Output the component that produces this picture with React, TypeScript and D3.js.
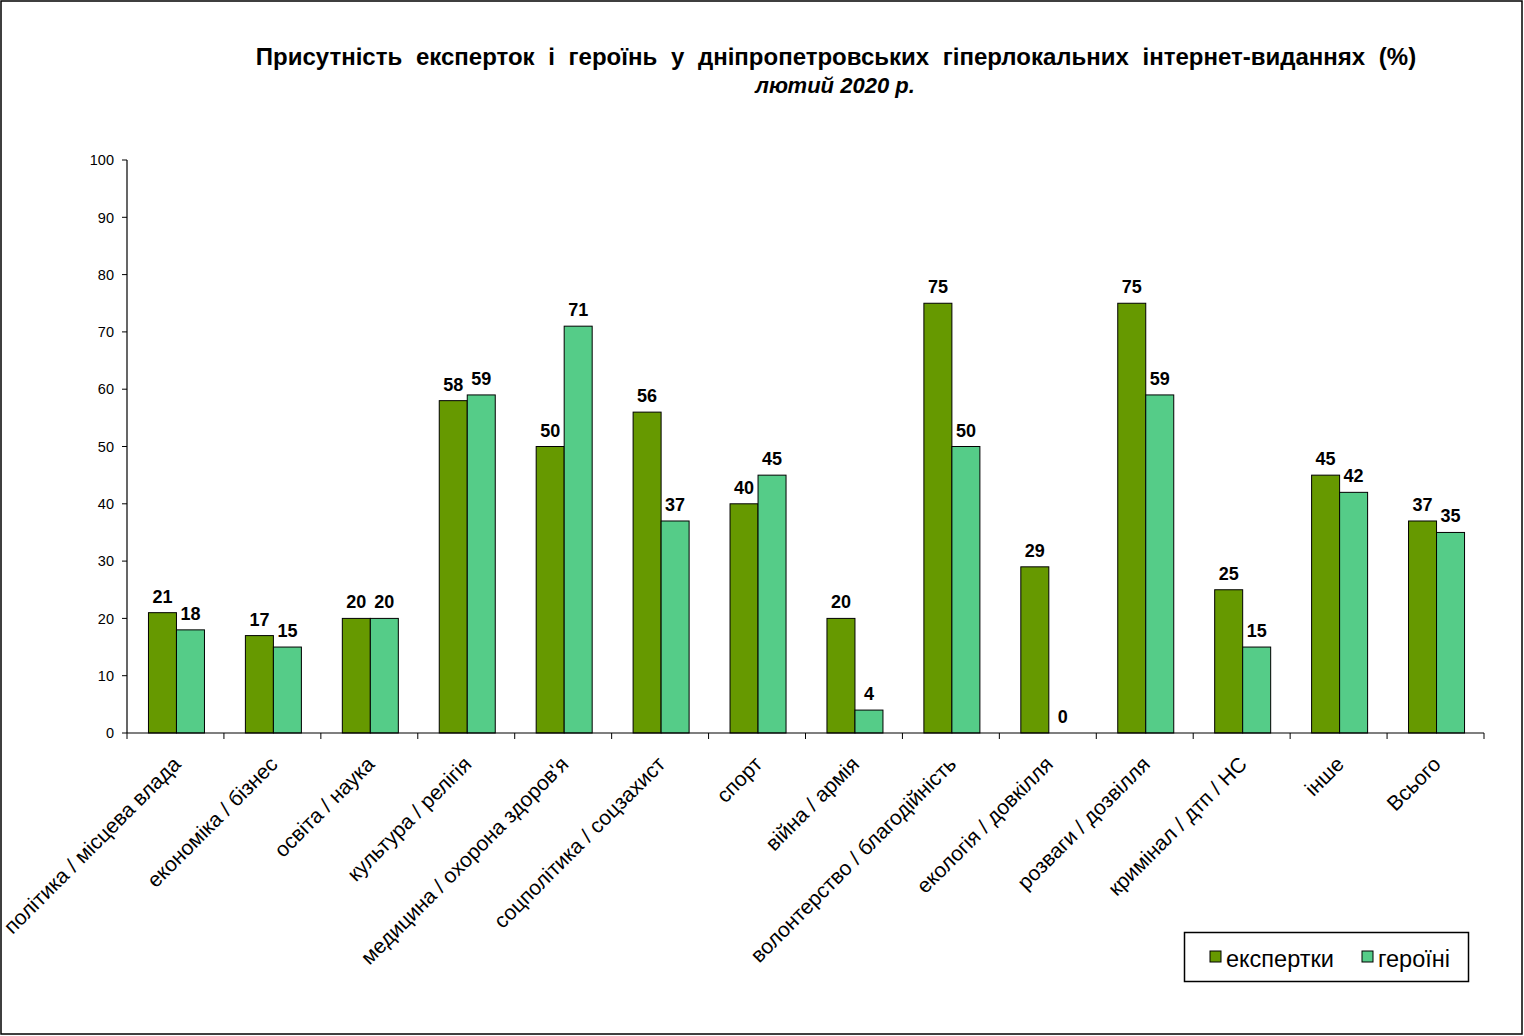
import React from "react";
import * as d3 from "d3";

const categories = [
  "політика / місцева влада",
  "економіка / бізнес",
  "освіта / наука",
  "культура / релігія",
  "медицина / охорона здоров'я",
  "соцполітика / соцзахист",
  "спорт",
  "війна / армія",
  "волонтерство / благодійність",
  "екологія / довкілля",
  "розваги / дозвілля",
  "кримінал / дтп / НС",
  "інше",
  "Всього",
];
const experts = [21, 17, 20, 58, 50, 56, 40, 20, 75, 29, 75, 25, 45, 37];
const heroines = [18, 15, 20, 59, 71, 37, 45, 4, 50, 0, 59, 15, 42, 35];
const seriesNames = ["експертки", "героїні"];
const yTicks = [0, 10, 20, 30, 40, 50, 60, 70, 80, 90, 100];

const colors = ["#669900", "#55CC88"];

const W = 1524;
const H = 1036;
const plot = { left: 127, right: 1484, top: 160, bottom: 733 };

export default function App() {
  const x = d3
    .scaleBand<string>()
    .domain(categories)
    .range([plot.left, plot.right])
    .paddingInner(0)
    .paddingOuter(0);
  const y = d3.scaleLinear().domain([0, 100]).range([plot.bottom, plot.top]);
  const barW = 28;
  const series = [experts, heroines];
  const font = "Arial, 'Liberation Sans', sans-serif";

  return (
    <svg
      width={W}
      height={H}
      style={{ position: "absolute", left: 0, top: 0, background: "#fff" }}
      fontFamily={font}
    >
      <rect x={1} y={1} width={1521} height={1033} fill="#fff" stroke="#000" strokeWidth={1.5} />

      <text x={836} y={65} textAnchor="middle" fontSize={24} fontWeight="bold" wordSpacing={7}>
        Присутність експерток і героїнь у дніпропетровських гіперлокальних інтернет-виданнях (%)
      </text>
      <text x={835} y={93} textAnchor="middle" fontSize={22} fontWeight="bold" fontStyle="italic">
        лютий 2020 р.
      </text>

      {/* y axis */}
      <line x1={plot.left} x2={plot.left} y1={plot.top} y2={plot.bottom} stroke="#000" strokeWidth={1.2} />
      {yTicks.map((t) => (
        <g key={t}>
          <line x1={plot.left - 5} x2={plot.left} y1={y(t)} y2={y(t)} stroke="#000" />
          <text x={plot.left - 13} y={y(t)} dy="0.36em" textAnchor="end" fontSize={14.5}>
            {t}
          </text>
        </g>
      ))}

      {/* bars */}
      {categories.map((c, i) => {
        const cx = (x(c) as number) + x.bandwidth() / 2 + 1;
        return (
          <g key={c}>
            {series.map((s, k) => {
              const bx = cx - barW + k * barW;
              return (
                <g key={k}>
                  <rect
                    x={bx}
                    y={y(s[i])}
                    width={barW}
                    height={plot.bottom - y(s[i])}
                    fill={colors[k]}
                    stroke="#000"
                    strokeWidth={1}
                  />
                  <text
                    x={bx + barW / 2}
                    y={y(s[i]) - 10}
                    textAnchor="middle"
                    fontSize={18}
                    fontWeight="bold"
                  >
                    {s[i]}
                  </text>
                </g>
              );
            })}
          </g>
        );
      })}

      {/* x axis */}
      <line x1={plot.left} x2={plot.right} y1={plot.bottom} y2={plot.bottom} stroke="#000" strokeWidth={1.2} />
      {categories.concat(["__end"]).map((c, i) => {
        const tx = plot.left + i * x.step();
        return <line key={c} x1={tx} x2={tx} y1={plot.bottom} y2={plot.bottom + 6} stroke="#000" />;
      })}
      {categories.map((c) => {
        const cx = (x(c) as number) + x.bandwidth() / 2;
        return (
          <text
            key={c}
            transform={`translate(${cx - 4},${plot.bottom + 22}) rotate(-45)`}
            dy="0.71em"
            textAnchor="end"
            fontSize={21}
          >
            {c}
          </text>
        );
      })}

      {/* legend */}
      <rect x={1184.5} y={932.5} width={284} height={49} fill="#fff" stroke="#000" strokeWidth={1.5} />
      {seriesNames.map((n, k) => {
        const lx = k === 0 ? 1210 : 1362;
        return (
          <g key={n}>
            <rect x={lx} y={951} width={11} height={11} fill={colors[k]} stroke="#000" strokeWidth={1} />
            <text x={lx + 16} y={967} fontSize={23.5}>
              {n}
            </text>
          </g>
        );
      })}
    </svg>
  );
}
